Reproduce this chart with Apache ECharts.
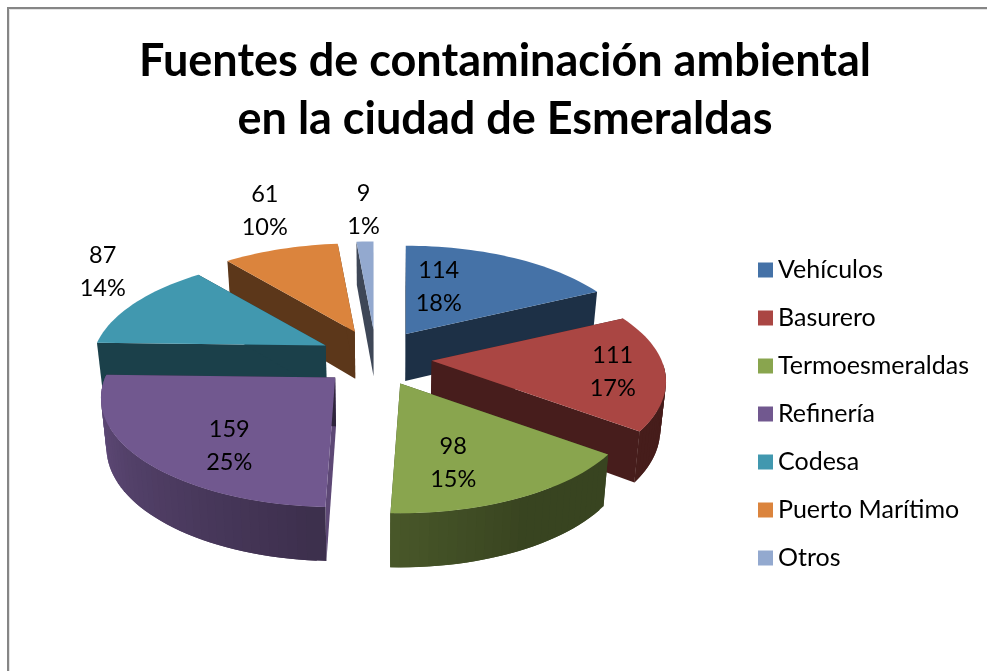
<!DOCTYPE html>
<html>
<head>
<meta charset="utf-8">
<title>Fuentes de contaminación ambiental</title>
<script src="https://cdn.jsdelivr.net/npm/echarts@6/dist/echarts.min.js"></script>
<style>
  html, body { margin: 0; padding: 0; background: #fff; }
  #chart { width: 987px; height: 671px; }
</style>
</head>
<body>
<div id="chart"></div>
<script>
const titleText = 'Fuentes de contaminación ambiental\nen la ciudad de Esmeraldas'
const categories = ['Vehículos', 'Basurero', 'Termoesmeraldas', 'Refinería', 'Codesa', 'Puerto Marítimo', 'Otros']
const values = [114, 111, 98, 159, 87, 61, 9]
const colors = ['#4572A7', '#AA4643', '#89A54E', '#71588F', '#4198AF', '#DB843D', '#93A9CF']
// label offset from the tip of each slice (best fit in the original)
const labelOffsets = [[33, -47], [181, 11], [53, 79], [-106, 68], [-223, -74], [-90, -121], [-10, -120]]

// fake 3d pie: perspective ellipse, seen from above
const cx = 376
const cy = 358
const radiusX = 230
const radiusY = 105
const perspective = 0.19
const explodeX = 56
const explodeY = 28.4
const font = 'Lato'

const total = values.reduce((a, b) => a + b, 0)
let sum = 0
const slices = values.map((v) => {
  const start = (sum / total) * 360
  sum += v
  return { start: start, end: (sum / total) * 360 }
})

function rad(deg) {
  return (deg * Math.PI) / 180
}

function tip(i) {
  const mid = rad((slices[i].start + slices[i].end) / 2)
  return [cx + explodeX * Math.sin(mid), cy - explodeY * Math.cos(mid)]
}

function rim(i, deg) {
  const a = tip(i)
  const u = Math.sin(rad(deg))
  const v = -Math.cos(rad(deg))
  const s = 1 / (1 - perspective * v)
  return [a[0] + radiusX * u * s, a[1] + radiusY * v * s]
}

function down(p) {
  return [cx + (p[0] - cx) * 0.98, p[1] + 48 + (p[1] - cy) * 0.04]
}

function shade(color, f) {
  const n = parseInt(color.slice(1), 16)
  const c = [n >> 16, (n >> 8) & 255, n & 255].map((x) => Math.round(x * f))
  return 'rgb(' + c.join(',') + ')'
}

// rim walls get lighter going round the left side
function rimShade(deg) {
  if (deg <= 150) return 0.41
  if (deg >= 270) return 0.9
  return 0.41 + ((deg - 150) / 120) * 0.49
}

function poly(points, fill) {
  return {
    type: 'polygon',
    shape: { points: points },
    style: { fill: fill },
  }
}

function renderSlice(params, api) {
  const i = params.seriesIndex
  const a = tip(i)
  const s = slices[i]
  const color = colors[i]
  const children = []
  const steps = Math.max(2, Math.ceil((s.end - s.start) / 2))
  const angle = (k) => s.start + ((s.end - s.start) * Math.min(k, steps)) / steps

  // the two cut faces. a cut facing right near the front catches more light
  const wall = (deg, f) => {
    const p = rim(i, deg)
    return poly([a, p, down(p), down(a)], shade(color, f))
  }
  children.push(wall(s.start, Math.cos(rad(s.start)) < -0.99 ? 0.82 : 0.42), wall(s.end, 0.42))

  // outer wall, only the part turned to the viewer. strips overlap to hide seams
  for (let k = steps - 1; k >= 0; k--) {
    const d0 = angle(k)
    if (Math.cos(rad(d0)) > 0) continue
    const p0 = rim(i, d0)
    const p1 = rim(i, angle(k + 2))
    children.push(poly([p0, p1, down(p1), down(p0)], shade(color, rimShade(d0))))
  }

  const top = [a]
  for (let k = 0; k <= steps; k++) top.push(rim(i, angle(k)))
  children.push(poly(top, color))

  const value = api.value(0)
  const off = labelOffsets[i]
  children.push({
    type: 'text',
    style: {
      x: a[0] + off[0],
      y: a[1] + off[1],
      text: value + '\n' + Math.round((value / total) * 100) + '%',
      fill: '#000',
      font: '23.5px ' + font,
      lineHeight: 33,
      align: 'center',
      verticalAlign: 'middle',
    },
  })
  return { type: 'group', children: children }
}

// paint back slices first
const depthOrder = slices
  .map((s, i) => ({ i: i, v: -Math.cos(rad((s.start + s.end) / 2)) }))
  .sort((a, b) => a.v - b.v)
  .map((d) => d.i)

const option = {
  animation: false,
  backgroundColor: '#fff',
  title: {
    text: titleText,
    left: 500,
    top: 27,
    textAlign: 'center',
    textStyle: {
      fontFamily: font,
      fontSize: 45,
      fontWeight: 'bold',
      color: '#000',
      lineHeight: 58,
    },
  },
  legend: {
    orient: 'vertical',
    left: 753,
    top: 248,
    icon: 'rect',
    itemWidth: 15,
    itemHeight: 15,
    itemGap: 14,
    selectedMode: false,
    data: categories,
    textStyle: { fontFamily: font, fontSize: 25, color: '#000', lineHeight: 34 },
  },
  graphic: [
    {
      type: 'polyline',
      silent: true,
      shape: { points: [[9.5, 671], [9.5, 9.5], [987, 9.5]] },
      style: { stroke: '#e4e4e4', lineWidth: 1, fill: 'none' },
    },
    {
      type: 'polyline',
      silent: true,
      shape: { points: [[8, 671], [8, 8], [987, 8]] },
      style: { stroke: '#868686', lineWidth: 2, fill: 'none' },
    },
  ],
  series: categories.map((name, i) => ({
    name: name,
    type: 'custom',
    coordinateSystem: 'none',
    silent: true,
    z: 2 + depthOrder.indexOf(i),
    itemStyle: { color: colors[i] },
    renderItem: renderSlice,
    data: [values[i]],
  })),
}

let chart = echarts.init(document.getElementById('chart'))
chart.setOption(option)

window.addEventListener('resize', function () {
  chart.resize()
})
</script>
</body>
</html>
